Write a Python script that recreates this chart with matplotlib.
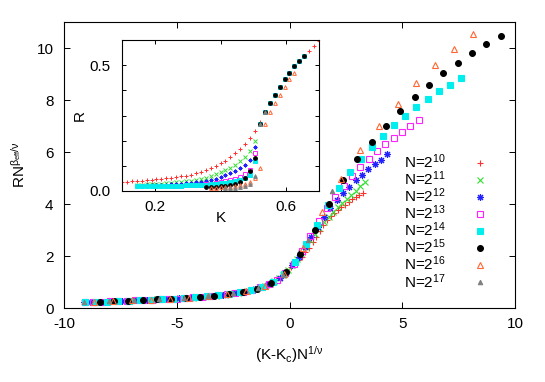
import matplotlib
matplotlib.use("Agg")
import matplotlib.pyplot as plt

plt.rcParams['font.family'] = ['Liberation Sans', 'DejaVu Sans']
plt.rcParams['mathtext.fontset'] = 'custom'
plt.rcParams['mathtext.rm'] = 'Liberation Sans'
plt.rcParams['mathtext.it'] = 'Liberation Sans:italic'
plt.rcParams['mathtext.bf'] = 'Liberation Sans:bold'
plt.rcParams['axes.unicode_minus'] = False

# --- datos del colapso (panel principal) ---
x_n10 = [3.26, 3.10, 2.94, 2.78, 2.62, 2.46, 2.30, 2.14, 1.98, 1.82, 1.66, 1.50, 1.34, 1.18, 1.02, 0.86,
         0.70, 0.54, 0.38, 0.22, 0.06, -0.10, -0.26, -0.42, -0.58, -0.74, -0.90, -1.06, -1.22, -1.38,
         -1.54, -1.70, -1.86, -2.02, -2.18, -2.34, -2.50, -2.66, -2.82, -2.98, -3.14, -3.30, -3.46,
         -3.62, -3.78, -3.94, -4.10, -4.26, -4.42, -4.58, -4.74, -4.90, -5.06, -5.22, -5.38, -5.54,
         -5.70, -5.86]
y_n10 = [4.44, 4.36, 4.28, 4.18, 4.08, 3.98, 3.87, 3.76, 3.64, 3.52, 3.38, 3.18, 2.96, 2.74, 2.52, 2.32,
         2.15, 1.98, 1.83, 1.69, 1.56, 1.43, 1.30, 1.18, 1.08, 1.00, 0.93, 0.87, 0.82, 0.77,
         0.73, 0.69, 0.66, 0.63, 0.605, 0.58, 0.56, 0.54, 0.52, 0.505, 0.49, 0.48, 0.465,
         0.45, 0.44, 0.425, 0.415, 0.405, 0.395, 0.385, 0.375, 0.37, 0.36, 0.355, 0.35, 0.345,
         0.34, 0.335]

x_n11 = [3.33, 3.13, 2.93, 2.73, 2.53, 2.33, 2.13, 1.93, 1.73, 1.53, 1.33, 1.13, 0.93, 0.73, 0.53, 0.33,
         0.13, -0.07, -0.27, -0.47, -0.67, -0.87, -1.07, -1.27, -1.47, -1.67, -1.87, -2.07, -2.27,
         -2.47, -2.67, -2.87, -3.07, -3.27, -3.47, -3.67, -3.87, -4.07, -4.27, -4.47, -4.67, -4.87,
         -5.07, -5.27, -5.47, -5.67, -5.87]
y_n11 = [4.83, 4.68, 4.50, 4.35, 4.20, 4.04, 3.88, 3.70, 3.50, 3.30, 3.08, 2.85, 2.60, 2.34, 2.10, 1.88,
         1.66, 1.46, 1.28, 1.14, 1.03, 0.94, 0.865, 0.80, 0.745, 0.695, 0.655, 0.62, 0.59,
         0.565, 0.535, 0.515, 0.50, 0.48, 0.46, 0.445, 0.43, 0.415, 0.40, 0.39, 0.38, 0.37,
         0.36, 0.355, 0.345, 0.34, 0.33]

x_n12 = [4.33, 4.05, 3.77, 3.49, 3.21, 2.93, 2.65, 2.37, 2.09, 1.81, 1.53, 1.25, 0.97, 0.69, 0.41, 0.13,
         -0.15, -0.43, -0.71, -0.99, -1.27, -1.55, -1.83, -2.11, -2.39, -2.67, -2.95, -3.23, -3.51,
         -3.79, -4.07, -4.35, -4.63, -4.91, -5.19, -5.47, -5.75, -6.03, -6.31, -6.59, -6.87, -7.15,
         -7.43, -7.71, -7.99, -8.27, -8.55, -8.83, -9.11]
y_n12 = [5.91, 5.71, 5.52, 5.34, 5.12, 4.91, 4.66, 4.42, 4.14, 3.84, 3.50, 3.12, 2.72, 2.35, 1.97, 1.65,
         1.38, 1.16, 1.00, 0.89, 0.80, 0.73, 0.665, 0.615, 0.575, 0.54, 0.51, 0.485, 0.46,
         0.435, 0.415, 0.40, 0.385, 0.37, 0.355, 0.345, 0.335, 0.325, 0.31, 0.30, 0.29, 0.28,
         0.27, 0.265, 0.255, 0.245, 0.24, 0.23, 0.225]

x_n13 = [5.73, 5.36, 4.99, 4.62, 4.25, 3.88, 3.51, 3.14, 2.77, 2.40, 2.03, 1.66, 1.29, 0.92, 0.55, 0.18,
         -0.19, -0.56, -0.93, -1.30, -1.67, -2.04, -2.41, -2.78, -3.15, -3.52, -3.89, -4.26, -4.63,
         -5.00, -5.37, -5.74, -6.11, -6.48, -6.85, -7.22, -7.59, -7.96, -8.33, -8.70, -9.07]
y_n13 = [7.23, 7.00, 6.78, 6.55, 6.30, 6.03, 5.73, 5.43, 5.07, 4.70, 4.28, 3.84, 3.33, 2.78, 2.20, 1.70,
         1.35, 1.09, 0.91, 0.80, 0.70, 0.63, 0.57, 0.53, 0.49, 0.46, 0.43, 0.405, 0.385,
         0.365, 0.35, 0.335, 0.32, 0.305, 0.29, 0.28, 0.27, 0.255, 0.245, 0.235, 0.225]

x_n14 = [7.59, 7.10, 6.61, 6.12, 5.63, 5.14, 4.65, 4.16, 3.67, 3.18, 2.69, 2.20, 1.71, 1.22, 0.73, 0.24,
         -0.25, -0.74, -1.23, -1.72, -2.21, -2.70, -3.19, -3.68, -4.17, -4.66, -5.15, -5.64, -6.13,
         -6.62, -7.11, -7.60, -8.09, -8.58, -9.07]
y_n14 = [8.83, 8.59, 8.33, 8.03, 7.72, 7.39, 7.02, 6.62, 6.20, 5.73, 5.22, 4.62, 3.95, 3.20, 2.45, 1.78,
         1.30, 0.99, 0.81, 0.685, 0.60, 0.535, 0.49, 0.445, 0.41, 0.385, 0.36, 0.34, 0.32,
         0.30, 0.28, 0.27, 0.25, 0.24, 0.225]

x_n15 = [9.36, 8.73, 8.09, 7.46, 6.82, 6.19, 5.55, 4.92, 4.28, 3.65, 3.01, 2.38, 1.74, 1.11, 0.47,
         -0.16, -0.80, -1.43, -2.07, -2.70, -3.34, -3.97, -4.61, -5.24, -5.88, -6.51, -7.15, -7.78, -8.42]
y_n15 = [10.47, 10.15, 9.79, 9.41, 9.03, 8.58, 8.10, 7.59, 7.01, 6.38, 5.72, 4.91, 4.00, 3.00, 2.06,
         1.37, 0.97, 0.75, 0.62, 0.545, 0.48, 0.42, 0.385, 0.355, 0.33, 0.305, 0.28, 0.26, 0.24]

x_n16 = [8.15, 7.31, 6.47, 5.63, 4.79, 3.95, 3.11, 2.27, 1.43, 0.59, -0.25, -1.09, -1.93, -2.77,
         -3.61, -4.45, -5.29, -6.13, -6.97, -7.81, -8.65]
y_n16 = [10.53, 9.95, 9.33, 8.64, 7.85, 7.01, 6.07, 4.95, 3.68, 2.30, 1.30, 0.86, 0.645, 0.53,
         0.45, 0.395, 0.355, 0.32, 0.29, 0.26, 0.235]

x_n17 = [1.90, 0.80, -0.30, -1.40, -2.50, -3.60, -4.70, -5.80, -6.90, -8.00, -9.10]
y_n17 = [4.50, 2.60, 1.27, 0.77, 0.56, 0.45, 0.38, 0.335, 0.29, 0.255, 0.22]

# --- datos del recuadro: R frente a K ---
K_n10 = [0.100, 0.115, 0.130, 0.145, 0.160, 0.175, 0.190, 0.205, 0.220, 0.235, 0.250, 0.265, 0.280,
         0.295, 0.310, 0.325, 0.340, 0.355, 0.370, 0.385, 0.400, 0.415, 0.430, 0.445, 0.460, 0.475,
         0.490, 0.505, 0.520, 0.535, 0.550, 0.565, 0.580, 0.595, 0.610, 0.625, 0.640, 0.655, 0.670,
         0.685, 0.700]
R_n10 = [0.036, 0.037, 0.038, 0.040, 0.041, 0.043, 0.044, 0.046, 0.048, 0.050, 0.052, 0.055, 0.058,
         0.061, 0.065, 0.070, 0.076, 0.083, 0.091, 0.100, 0.110, 0.121, 0.135, 0.150, 0.166, 0.185,
         0.210, 0.240, 0.275, 0.312, 0.350, 0.383, 0.415, 0.445, 0.470, 0.495, 0.517, 0.537, 0.557,
         0.576, 0.595]

K_n11 = [0.145, 0.160, 0.175, 0.190, 0.205, 0.220, 0.235, 0.250, 0.265, 0.280, 0.295, 0.310, 0.325,
         0.340, 0.355, 0.370, 0.385, 0.400, 0.415, 0.430, 0.445, 0.460, 0.475, 0.490, 0.505, 0.520,
         0.535, 0.550, 0.565, 0.580, 0.595, 0.610, 0.625, 0.640, 0.655]
R_n11 = [0.024, 0.025, 0.026, 0.027, 0.028, 0.029, 0.030, 0.032, 0.034, 0.036, 0.038, 0.041, 0.044,
         0.048, 0.053, 0.059, 0.066, 0.074, 0.083, 0.093, 0.104, 0.118, 0.135, 0.158, 0.200, 0.268,
         0.312, 0.350, 0.383, 0.415, 0.445, 0.470, 0.495, 0.517, 0.537]

K_n12 = K_n11
R_n12 = [0.021, 0.021, 0.022, 0.022, 0.023, 0.024, 0.025, 0.026, 0.027, 0.028, 0.030, 0.032, 0.034,
         0.037, 0.040, 0.044, 0.049, 0.055, 0.062, 0.070, 0.079, 0.090, 0.104, 0.125, 0.175, 0.268,
         0.312, 0.350, 0.383, 0.415, 0.445, 0.470, 0.495, 0.517, 0.537]

K_n13 = [0.250, 0.265, 0.280, 0.295, 0.310, 0.325, 0.340, 0.355, 0.370, 0.385, 0.400, 0.415, 0.430,
         0.445, 0.460, 0.475, 0.490, 0.505, 0.520, 0.535, 0.550, 0.565, 0.580, 0.595, 0.610, 0.625,
         0.640, 0.655]
R_n13 = [0.020, 0.021, 0.021, 0.022, 0.023, 0.024, 0.025, 0.027, 0.029, 0.031, 0.034, 0.038, 0.043,
         0.049, 0.057, 0.068, 0.085, 0.150, 0.268, 0.312, 0.350, 0.383, 0.415, 0.445, 0.470, 0.495,
         0.517, 0.537]

K_n14 = K_n11
R_n14 = [0.018, 0.018, 0.018, 0.019, 0.019, 0.019, 0.020, 0.020, 0.021, 0.021, 0.022, 0.022, 0.023,
         0.024, 0.025, 0.026, 0.028, 0.030, 0.032, 0.035, 0.039, 0.044, 0.052, 0.064, 0.120, 0.268,
         0.312, 0.350, 0.383, 0.415, 0.445, 0.470, 0.495, 0.517, 0.537]

K_n15 = [0.355, 0.370, 0.385, 0.400, 0.415, 0.430, 0.445, 0.460, 0.475, 0.490, 0.505, 0.520, 0.535,
         0.550, 0.565, 0.580, 0.595, 0.610, 0.625, 0.640, 0.655]
R_n15 = [0.015, 0.016, 0.017, 0.018, 0.020, 0.022, 0.026, 0.035, 0.052, 0.080, 0.130, 0.268, 0.312,
         0.350, 0.383, 0.415, 0.445, 0.470, 0.495, 0.517, 0.537]

K_n16 = [0.370, 0.385, 0.400, 0.415, 0.430, 0.445, 0.460, 0.475, 0.490, 0.505, 0.520, 0.535, 0.550,
         0.565, 0.580, 0.595, 0.610, 0.625]
R_n16 = [0.012, 0.013, 0.014, 0.015, 0.017, 0.019, 0.022, 0.027, 0.035, 0.050, 0.090, 0.268, 0.312,
         0.350, 0.383, 0.415, 0.445, 0.470]

K_n17 = [0.415, 0.430, 0.445, 0.460, 0.475, 0.490, 0.505, 0.520, 0.535]
R_n17 = [0.010, 0.011, 0.012, 0.014, 0.018, 0.028, 0.060, 0.268, 0.312]

exponentes = [10, 11, 12, 13, 14, 15, 16, 17]
main_x = [x_n10, x_n11, x_n12, x_n13, x_n14, x_n15, x_n16, x_n17]
main_y = [y_n10, y_n11, y_n12, y_n13, y_n14, y_n15, y_n16, y_n17]
inset_K = [K_n10, K_n11, K_n12, K_n13, K_n14, K_n15, K_n16, K_n17]
inset_R = [R_n10, R_n11, R_n12, R_n13, R_n14, R_n15, R_n16, R_n17]

# estilo tipo gnuplot
colores = ['#ff3030', '#33dd33', '#2222ff', '#ff22ff', '#00eeee', '#000000', '#ff6633', '#808080']
marcadores = ['+', 'x', (8, 2, 0), 's', 's', 'o', '^', '^']
rellenos = [True, True, True, False, True, True, False, True]
tam = [4.5, 4.0, 5.0, 4.0, 4.0, 4.2, 4.2, 3.2]

fig = plt.figure(figsize=(5.45, 3.82), dpi=100)
ax = fig.add_axes([64 / 545, 74 / 382, 451 / 545, 286 / 382])

for i, e in enumerate(exponentes):
    fc = colores[i] if rellenos[i] else 'none'
    ax.plot(main_x[i], main_y[i], linestyle='none', marker=marcadores[i], ms=tam[i],
            mec=colores[i], mfc=fc, mew=0.8, label=f'N=2$^{{{e}}}$')

ax.set_xlim(-10, 10)
ax.set_ylim(0, 11)
ax.set_xticks([-10, -5, 0, 5, 10])
ax.set_yticks([0, 2, 4, 6, 8, 10])
ax.tick_params(direction='in', top=True, right=True, length=4, width=0.7, labelsize=11)
ax.tick_params(axis='x', pad=6.5)
ax.tick_params(axis='y', pad=7.5)
for s in ax.spines.values():
    s.set_linewidth(0.8)

ax.set_xlabel(r'(K-K$_\mathrm{c}$)N$^\mathrm{1/ν}$', fontsize=11)
ax.xaxis.set_label_coords(0.5, -0.125)
ax.set_ylabel(r'RN$^\mathrm{β_{eff}/ν}$', fontsize=11)
ax.yaxis.set_label_coords(-0.08, 0.5)

ax.legend(loc='center right', bbox_to_anchor=(0.939, 0.3024), frameon=False, markerfirst=False,
          fontsize=11, handlelength=1.0, handletextpad=1.7, labelspacing=-0.1,
          borderpad=0, borderaxespad=0)

# recuadro
ax2 = fig.add_axes([122 / 545, 191 / 382, 197 / 545, 151 / 382])
for i, e in enumerate(exponentes):
    fc = colores[i] if rellenos[i] else 'none'
    ax2.plot(inset_K[i], inset_R[i], linestyle='none', marker=marcadores[i], ms=2.7,
             mec=colores[i], mfc=fc, mew=0.7)

ax2.set_xlim(0.1, 0.7)
ax2.set_ylim(0, 0.6)
ax2.set_xticks([0.2, 0.4, 0.6])
ax2.set_xticklabels(['0.2', '', '0.6'])
ax2.set_yticks([0.0, 0.1, 0.2, 0.3, 0.4, 0.5, 0.6])
ax2.set_yticklabels(['0.0', '', '', '', '', '0.5', ''])
ax2.tick_params(direction='in', top=True, right=True, length=3, width=0.7, labelsize=11)
ax2.tick_params(axis='x', pad=6.5)
ax2.tick_params(axis='y', pad=8.5)
for s in ax2.spines.values():
    s.set_linewidth(0.8)
ax2.set_xlabel('K', fontsize=11)
ax2.xaxis.set_label_coords(0.5, -0.13)
ax2.set_ylabel('R', fontsize=11)
ax2.yaxis.set_label_coords(-0.18, 0.5)

fig.savefig('out.png', dpi=100)
